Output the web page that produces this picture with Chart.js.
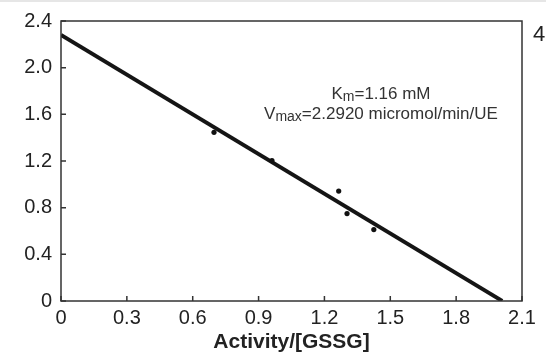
<!DOCTYPE html>
<html>
<head>
<meta charset="utf-8">
<script src="https://cdn.jsdelivr.net/npm/chart.js@4.4.0/dist/chart.umd.min.js"></script>
<style>
  html, body { margin: 0; padding: 0; background: #fff; }
  #wrap { width: 546px; height: 356px; position: relative; }
</style>
</head>
<body>
<div id="wrap"><canvas id="c" width="546" height="356"></canvas></div>
<script>
// ---- data ----
const pointX = [0.697, 0.961, 1.265, 1.303, 1.425];
const pointY = [1.446, 1.204, 0.942, 0.749, 0.612];
const fitX = [0, 2.01];
const fitY = [2.28, 0];
const xTickValues = [0, 0.3, 0.6, 0.9, 1.2, 1.5, 1.8, 2.1];
const xTickLabels = ['0', '0.3', '0.6', '0.9', '1.2', '1.5', '1.8', '2.1'];
const yTickValues = [0, 0.4, 0.8, 1.2, 1.6, 2.0, 2.4];
const yTickLabels = ['0', '0.4', '0.8', '1.2', '1.6', '2.0', '2.4'];
const xTitle = 'Activity/[GSSG]';
const kmText = ['K', 'm', '=1.16 mM'];
const vmaxText = ['V', 'max', '=2.2920 micromol/min/UE'];
const panelLabel = '4';

const FONT = '"Liberation Sans", Arial, sans-serif';
const INK = '#222';

const framePlugin = {
  id: 'frame',
  afterDraw(chart) {
    const { ctx, chartArea: a, scales } = chart;
    ctx.save();
    // box
    ctx.strokeStyle = '#333';
    ctx.lineWidth = 1.5;
    ctx.strokeRect(a.left, a.top, a.right - a.left, a.bottom - a.top);
    // inward ticks
    ctx.beginPath();
    xTickValues.forEach(v => {
      const px = scales.x.getPixelForValue(v);
      ctx.moveTo(px, a.bottom); ctx.lineTo(px, a.bottom - 5);
    });
    yTickValues.forEach(v => {
      const py = scales.y.getPixelForValue(v);
      ctx.moveTo(a.left, py); ctx.lineTo(a.left + 5, py);
    });
    ctx.stroke();

    // annotation text
    ctx.fillStyle = '#333';
    ctx.textBaseline = 'alphabetic';
    const cx = 381;
    function drawSub(parts, y) {
      const big = '17px ' + FONT, small = '14px ' + FONT;
      ctx.font = big; const w0 = ctx.measureText(parts[0]).width;
      const w2 = ctx.measureText(parts[2]).width;
      ctx.font = small; const w1 = ctx.measureText(parts[1]).width;
      let x = cx - (w0 + w1 + w2) / 2;
      ctx.font = big; ctx.fillText(parts[0], x, y); x += w0;
      ctx.font = small; ctx.fillText(parts[1], x, y + 2); x += w1;
      ctx.font = big; ctx.fillText(parts[2], x, y);
    }
    drawSub(kmText, 99);
    drawSub(vmaxText, 119);

    // panel label
    ctx.fillStyle = INK;
    ctx.font = '22px ' + FONT;
    ctx.fillText(panelLabel, 533, 41);

    // faint top border of image
    ctx.fillStyle = '#e6e6e6';
    ctx.fillRect(0, 0, 546, 2);
    ctx.restore();
  }
};

new Chart(document.getElementById('c'), {
  type: 'scatter',
  data: {
    datasets: [
      {
        label: 'fit',
        data: fitX.map((x, i) => ({ x, y: fitY[i] })),
        showLine: true,
        borderColor: '#151515',
        borderWidth: 3.8,
        pointRadius: 0,
        fill: false,
        order: 2
      },
      {
        label: 'data',
        data: pointX.map((x, i) => ({ x, y: pointY[i] })),
        backgroundColor: '#111',
        borderColor: '#111',
        pointRadius: 2.6,
        borderWidth: 0,
        order: 1
      }
    ]
  },
  options: {
    responsive: false,
    animation: false,
    devicePixelRatio: 1,
    layout: { padding: { top: 20, right: 24, left: 0, bottom: 0 } },
    plugins: { legend: { display: false }, tooltip: { enabled: false } },
    scales: {
      x: {
        type: 'linear',
        min: 0, max: 2.1,
        afterBuildTicks: s => { s.ticks = xTickValues.map(v => ({ value: v })); },
        afterFit: s => { s.height = 55; },
        grid: { display: false, drawTicks: false },
        border: { display: false },
        ticks: {
          padding: 5,
          color: INK,
          font: { family: FONT, size: 20 },
          maxRotation: 0,
          autoSkip: false,
          callback: (v, i) => xTickLabels[i]
        },
        title: {
          display: true,
          text: xTitle,
          color: INK,
          font: { family: FONT, size: 21, weight: 'bold' },
          padding: { top: 0, bottom: 1 }
        }
      },
      y: {
        type: 'linear',
        min: 0, max: 2.4,
        afterBuildTicks: s => { s.ticks = yTickValues.map(v => ({ value: v })); },
        afterFit: s => { s.width = 61; },
        grid: { display: false, drawTicks: false },
        border: { display: false },
        ticks: {
          padding: 9,
          color: INK,
          font: { family: FONT, size: 20 },
          autoSkip: false,
          callback: (v, i) => yTickLabels[i]
        }
      }
    }
  },
  plugins: [framePlugin]
});
</script>
</body>
</html>
